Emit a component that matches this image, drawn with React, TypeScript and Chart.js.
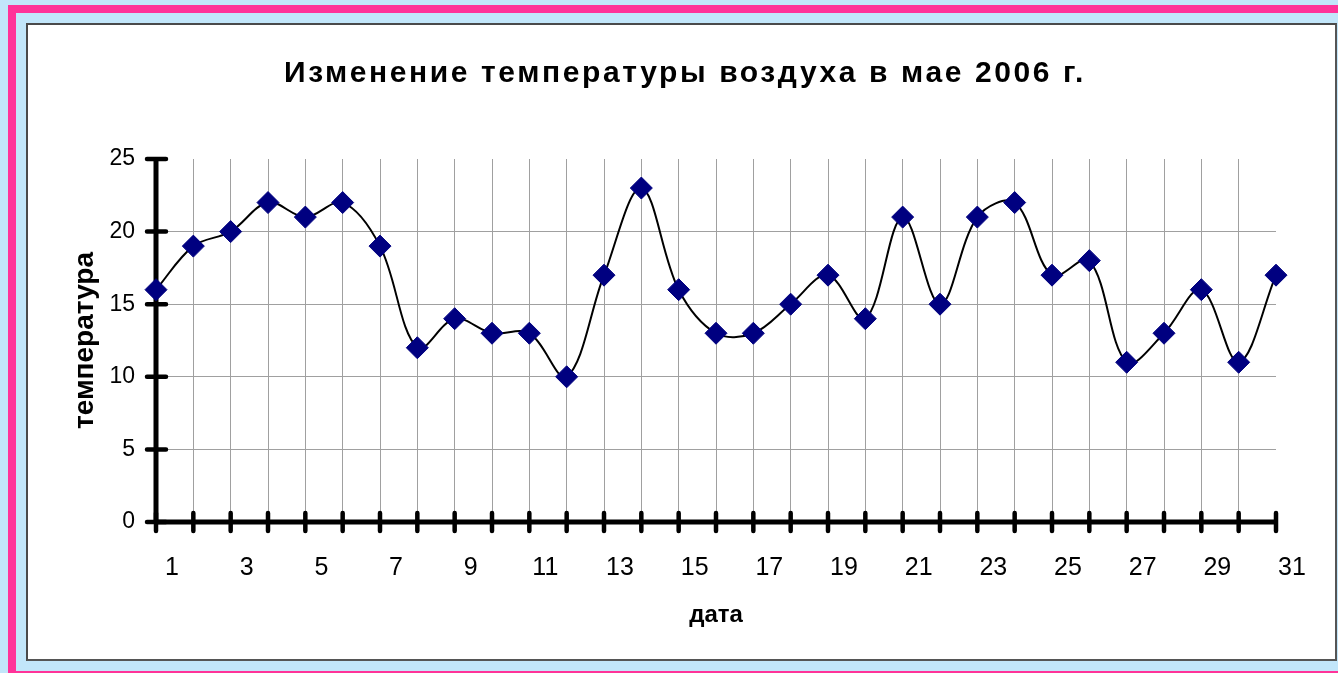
import React, { useEffect, useRef } from "react";
import { Chart, registerables } from "chart.js";

Chart.register(...registerables);

const days: string[] = [
  "1", "2", "3", "4", "5", "6", "7", "8", "9", "10",
  "11", "12", "13", "14", "15", "16", "17", "18", "19", "20",
  "21", "22", "23", "24", "25", "26", "27", "28", "29", "30", "31",
];

const temperatures: number[] = [
  16, 19, 20, 22, 21, 22, 19, 12, 14, 13,
  13, 10, 17, 23, 16, 13, 13, 15, 17, 14,
  21, 15, 21, 22, 17, 18, 11, 13, 16, 11, 17,
];

const yTickValues: number[] = [0, 5, 10, 15, 20, 25];

const chartTitle = "Изменение температуры воздуха в мае 2006 г.";
const yTitle = "температура";
const xTitle = "дата";

const FONT = "'Liberation Sans', Arial, sans-serif";

const excelAxes = {
  id: "excelAxes",
  afterLayout(chart: any) {
    const tb = chart.titleBlock;
    if (tb && !tb.__spaced) {
      const orig = tb.draw;
      tb.draw = function (...args: any[]) {
        const ctx = chart.ctx;
        ctx.save();
        (ctx as any).letterSpacing = "2.6px";
        orig.apply(this, args);
        ctx.restore();
      };
      tb.__spaced = true;
    }
  },
  beforeDatasetsDraw(chart: any) {
    const { ctx, chartArea, scales } = chart;
    const x = scales.x;
    const y = scales.y;
    const { left, right, top, bottom } = chartArea;
    ctx.save();
    ctx.strokeStyle = "#000";
    ctx.lineCap = "butt";
    ctx.lineWidth = 5;
    ctx.beginPath();
    ctx.moveTo(left, top);
    ctx.lineTo(left, bottom);
    ctx.moveTo(left, bottom);
    ctx.lineTo(right, bottom);
    ctx.stroke();
    ctx.lineCap = "round";
    ctx.lineWidth = 4.5;
    ctx.beginPath();
    y.ticks.forEach((t: any) => {
      const py = y.getPixelForValue(t.value);
      ctx.moveTo(left - 9, py);
      ctx.lineTo(left + 10, py);
    });
    x.ticks.forEach((_t: any, i: number) => {
      const px = x.getPixelForTick(i);
      ctx.moveTo(px, bottom - 9);
      ctx.lineTo(px, bottom + 9);
    });
    ctx.stroke();
    ctx.restore();
  },
};

export default function App() {
  const ref = useRef<HTMLCanvasElement | null>(null);

  useEffect(() => {
    if (!ref.current) return;
    const chart = new Chart(ref.current, {
      type: "line",
      data: {
        labels: days,
        datasets: [
          {
            data: temperatures,
            borderColor: "#000000",
            borderWidth: 2,
            tension: 0.35,
            pointStyle: "rectRot",
            pointRadius: 11,
            pointHoverRadius: 11,
            pointBackgroundColor: "#000080",
            pointBorderColor: "#000080",
            pointBorderWidth: 1,
            clip: false as any,
          },
        ],
      },
      options: {
        animation: false,
        responsive: false,
        maintainAspectRatio: false,
        devicePixelRatio: 1,
        events: [],
        layout: { padding: { left: 94, right: 62, top: 0, bottom: 0 } },
        plugins: {
          legend: { display: false },
          tooltip: { enabled: false },
          title: {
            display: true,
            text: chartTitle,
            color: "#000",
            font: { family: FONT, size: 30, weight: "bold", lineHeight: 1.2 },
            padding: { top: 55.6, bottom: 67.4 },
          },
        },
        scales: {
          x: {
            type: "category",
            offset: false,
            border: { display: false },
            grid: {
              drawTicks: false,
              lineWidth: 1,
              color: (c: any) => (c.index === days.length - 1 ? "rgba(0,0,0,0)" : "#a0a0a0"),
            },
            ticks: {
              autoSkip: false,
              maxRotation: 0,
              minRotation: 0,
              padding: 31,
              labelOffset: 16,
              color: "#000",
              font: { family: FONT, size: 25 },
              callback: (_v: any, i: number) => (i % 2 === 0 ? days[i] : ""),
            },
            title: {
              display: true,
              text: xTitle,
              color: "#000",
              font: { family: FONT, size: 24, weight: "bold", lineHeight: 1.2 },
              padding: { top: 0, bottom: 43.6 },
            },
            afterFit: (s: any) => {
              s.height = 151;
            },
          },
          y: {
            type: "linear",
            min: 0,
            max: 25,
            border: { display: false },
            afterBuildTicks: (s: any) => {
              s.ticks = yTickValues.map((v) => ({ value: v }));
            },
            grid: {
              drawTicks: false,
              lineWidth: 1,
              color: (c: any) => (c.tick && c.tick.value === 25 ? "rgba(0,0,0,0)" : "#a0a0a0"),
            },
            ticks: {
              padding: 21,
              color: "#000",
              font: { family: FONT, size: 23 },
            },
            title: {
              display: true,
              text: yTitle,
              color: "#000",
              font: { family: FONT, size: 28, weight: "bold", lineHeight: 1.2 },
              padding: { top: -25.8, bottom: 0 },
            },
            afterFit: (s: any) => {
              s.width = 62;
            },
          },
        },
      },
      plugins: [excelAxes],
    });
    return () => chart.destroy();
  }, []);

  return (
    <div
      style={{
        position: "fixed",
        left: 0,
        top: 0,
        width: 1338,
        height: 673,
        overflow: "hidden",
        background: "#c2e6fa",
      }}
    >
      <div
        style={{
          position: "absolute",
          left: 8,
          top: 5,
          width: 1400,
          height: 674,
          boxSizing: "border-box",
          border: "8px solid #ff3399",
        }}
      />
      <div
        style={{
          position: "absolute",
          left: 26,
          top: 23,
          width: 1311,
          height: 638,
          boxSizing: "border-box",
          background: "#ffffff",
          borderTop: "2px solid #4a4a4a",
          borderLeft: "2px solid #4a4a4a",
          borderRight: "2px solid #555555",
          borderBottom: "2px solid #555555",
        }}
      />
      <canvas
        ref={ref}
        width={1338}
        height={673}
        style={{ position: "absolute", left: 0, top: 0, width: 1338, height: 673 }}
      />
    </div>
  );
}
